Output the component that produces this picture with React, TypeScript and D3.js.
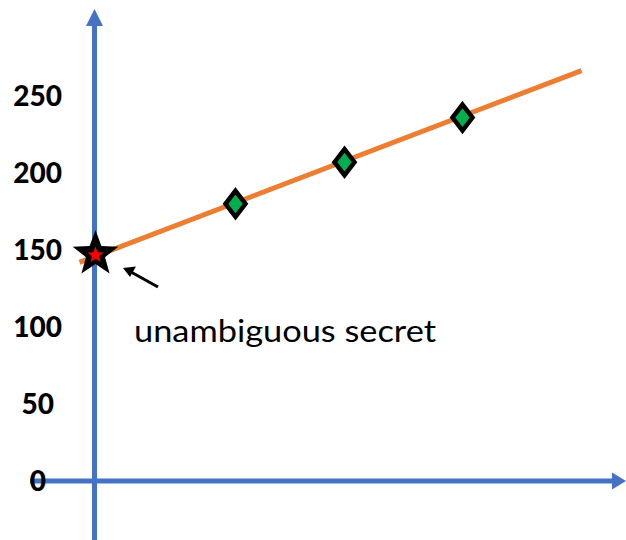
import React from "react";
import * as d3 from "d3";

const yTicks = [0, 50, 100, 150, 200, 250];
const lineX = [-3, 97.4];
const lineY = [142, 266.5];
const diamondX = [28.2, 50, 73.6];
const diamondY = [180, 207, 236];
const starX = [0];
const starY = [148];
const annotation = "unambiguous secret";

const W = 626;
const H = 540;

function starPath(cx: number, cy: number, rOut: number, rIn: number) {
  const pts: [number, number][] = [];
  for (let i = 0; i < 10; i++) {
    const r = i % 2 === 0 ? rOut : rIn;
    const a = -Math.PI / 2 + (i * Math.PI) / 5;
    pts.push([cx + r * Math.cos(a), cy + r * Math.sin(a)]);
  }
  return "M" + pts.map((p) => p.join(",")).join("L") + "Z";
}

export default function App() {
  const y = d3.scaleLinear().domain([0, 250]).range([481, 96]);
  const x = d3.scaleLinear().domain([0, 100]).range([94.5, 594.5]);
  const line = d3
    .line<number>()
    .x((_, i) => x(lineX[i]))
    .y((d) => y(d));
  const blue = "#4472C4";
  const labelRight: Record<number, number> = { 0: 46, 50: 54 };
  return (
    <svg
      width={W}
      height={H}
      style={{ position: "absolute", left: 0, top: 0, background: "#fff" }}
    >
      {/* axes */}
      <line x1={x(0)} x2={x(0)} y1={540} y2={24} stroke={blue} strokeWidth={5} />
      <path d={`M${x(0) - 8.5},26L${x(0)},9L${x(0) + 8.5},26Z`} fill={blue} />
      <line x1={30} x2={614} y1={y(0)} y2={y(0)} stroke={blue} strokeWidth={5} />
      <path
        d={`M612,${y(0) - 8.5}L626,${y(0)}L612,${y(0) + 8.5}Z`}
        fill={blue}
      />
      {/* tick labels */}
      {yTicks.map((t) => (
        <text
          key={t}
          x={labelRight[t] ?? 62}
          y={y(t)}
          dy="0.36em"
          textAnchor="end"
          fontFamily="Lato, 'Liberation Sans', sans-serif"
          fontWeight={900}
          fontSize={28}
          fill="#000"
        >
          {t}
        </text>
      ))}
      {/* orange line */}
      <path d={line(lineY) || ""} stroke="#ED7D31" strokeWidth={5} fill="none" />
      {/* diamonds */}
      {diamondX.map((dx, i) => {
        const cx = x(dx);
        const cy = y(diamondY[i]);
        return (
          <path
            key={i}
            d={`M${cx},${cy - 13}L${cx + 10},${cy}L${cx},${cy + 13}L${cx - 10},${cy}Z`}
            fill="#00B050"
            stroke="#000"
            strokeWidth={4.5}
            strokeLinejoin="miter"
          />
        );
      })}
      {/* star */}
      {starX.map((sx, i) => (
        <g key={i}>
          <path d={starPath(x(sx) + 1, y(starY[i]) + 1, 24, 10)} fill="#000" />
          <path d={starPath(x(sx) + 1, y(starY[i]) + 2, 8.5, 3.6)} fill="#FF0000" />
        </g>
      ))}
      {/* annotation arrow */}
      <line x1={158} y1={287} x2={131} y2={272} stroke="#000" strokeWidth={3} />
      <path d="M123,268L136,266.5L130,277Z" fill="#000" />
      <text
        x={134}
        y={342}
        fontFamily="Lato, 'Open Sans', sans-serif"
        fontSize={30}
        textLength={302}
        lengthAdjust="spacingAndGlyphs"
        fill="#000"
      >
        {annotation}
      </text>
    </svg>
  );
}
